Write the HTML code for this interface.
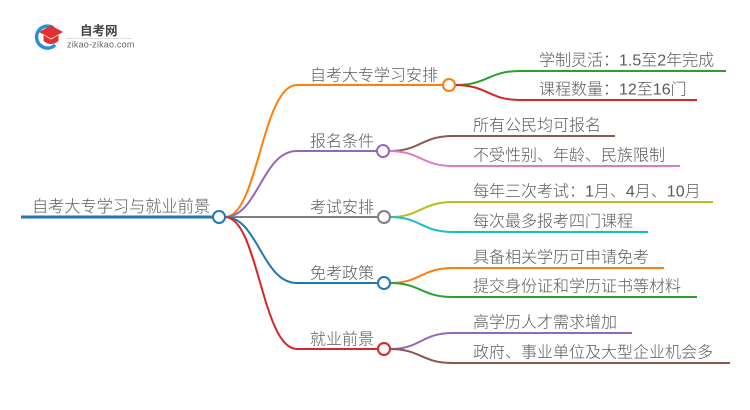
<!DOCTYPE html>
<html>
<head>
<meta charset="utf-8">
<style>
  html,body{margin:0;padding:0;background:#fff;}
  svg{display:block;}
  text{font-family:"Liberation Sans","Noto Sans CJK SC",sans-serif;fill:#5a5a5a;font-weight:300;}
</style>
</head>
<body>
<svg width="750" height="410" viewBox="0 0 750 410" xmlns="http://www.w3.org/2000/svg">
  <!-- Logo -->
  <g>
    <path d="M52 27 A11 11 0 1 0 54 46" fill="none" stroke="#2a8fd8" stroke-width="3.5" stroke-linecap="round"/>
    <path d="M39 32 L51 25.5 L63 32 L51 38.5 Z" fill="#e0302f"/>
    <path d="M43.5 35 L43.5 41 Q51 47 58.5 41 L58.5 35 L51 39.5 Z" fill="#e0302f"/>
    <text x="80" y="35" style="font-size:12.5px;font-weight:700;fill:#444;">自考网</text>
    <line x1="66" y1="38.5" x2="132" y2="38.5" stroke="#ddd" stroke-width="1"/>
    <text x="67" y="47.5" style="font-size:9px;fill:#666;letter-spacing:0.2px;">zikao-zikao.com</text>
  </g>

  <!-- Root -->
  <line x1="21" y1="217" x2="213" y2="217" stroke="#1f77b4" stroke-width="3"/>
  <text x="32" y="212" style="font-size:16.2px;">自考大专学习与就业前景</text>

  <!-- Level 1 connectors -->
  <path d="M225 217 C258 217 262 85 297 85 L442 85" fill="none" stroke="#ff7f0e" stroke-width="2"/>
  <path d="M225 217 C258 217 262 151 297 151 L377 151" fill="none" stroke="#9467bd" stroke-width="2"/>
  <path d="M225 217 L377 217" fill="none" stroke="#7f7f7f" stroke-width="2"/>
  <path d="M225 217 C258 217 262 283 297 283 L377 283" fill="none" stroke="#1f77b4" stroke-width="2"/>
  <path d="M225 217 C258 217 262 349 297 349 L377 349" fill="none" stroke="#d62728" stroke-width="2"/>

  <circle cx="219" cy="217" r="6" fill="#fff" stroke="#1f77b4" stroke-width="2"/>

  <!-- Level 1 labels -->
  <text x="310" y="80.5" style="font-size:16px;">自考大专学习安排</text>
  <text x="310" y="146.5" style="font-size:16px;">报名条件</text>
  <text x="310" y="212.5" style="font-size:16px;">考试安排</text>
  <text x="310" y="278.5" style="font-size:16px;">免考政策</text>
  <text x="310" y="344.5" style="font-size:16px;">就业前景</text>

  <!-- Leaves of branch 1 -->
  <path d="M455 85 C488 85 488 71 520 71 L726 71" fill="none" stroke="#2ca02c" stroke-width="2"/>
  <path d="M455 85 C488 85 488 100 520 100 L697 100" fill="none" stroke="#d62728" stroke-width="2"/>
  <circle cx="449" cy="85" r="6" fill="#fff" stroke="#ff7f0e" stroke-width="2"/>
  <text x="539" y="65.5" style="font-size:16px;">学制灵活：1.5至2年完成</text>
  <text x="539" y="94.5" style="font-size:16px;">课程数量：12至16门</text>

  <!-- Leaves of branch 2 -->
  <path d="M389 151 C421 151 421 136 453 136 L615 136" fill="none" stroke="#8c564b" stroke-width="2"/>
  <path d="M389 151 C421 151 421 166 453 166 L680 166" fill="none" stroke="#e377c2" stroke-width="2"/>
  <circle cx="383" cy="151" r="6" fill="#fff" stroke="#9467bd" stroke-width="2"/>
  <text x="473" y="130.5" style="font-size:16px;">所有公民均可报名</text>
  <text x="473" y="160.5" style="font-size:16px;">不受性别、年龄、民族限制</text>

  <!-- Leaves of branch 3 -->
  <path d="M390 217 C421 217 421 202 453 202 L713 202" fill="none" stroke="#bcbd22" stroke-width="2"/>
  <path d="M390 217 C421 217 421 232 453 232 L648 232" fill="none" stroke="#17becf" stroke-width="2"/>
  <circle cx="384" cy="217" r="6" fill="#fff" stroke="#7f7f7f" stroke-width="2"/>
  <text x="473" y="196.5" style="font-size:16px;">每年三次考试：1月、4月、10月</text>
  <text x="473" y="226.5" style="font-size:16px;">每次最多报考四门课程</text>

  <!-- Leaves of branch 4 -->
  <path d="M390 283 C421 283 421 268 453 268 L664 268" fill="none" stroke="#ff7f0e" stroke-width="2"/>
  <path d="M390 283 C421 283 421 297 453 297 L697 297" fill="none" stroke="#2ca02c" stroke-width="2"/>
  <circle cx="384" cy="283" r="6" fill="#fff" stroke="#1f77b4" stroke-width="2"/>
  <text x="473" y="262.5" style="font-size:16px;">具备相关学历可申请免考</text>
  <text x="473" y="291.5" style="font-size:16px;">提交身份证和学历证书等材料</text>

  <!-- Leaves of branch 5 -->
  <path d="M390 349 C421 349 421 333 453 333 L632 333" fill="none" stroke="#9467bd" stroke-width="2"/>
  <path d="M390 349 C421 349 421 363 453 363 L730 363" fill="none" stroke="#8c564b" stroke-width="2"/>
  <circle cx="384" cy="349" r="6" fill="#fff" stroke="#d62728" stroke-width="2"/>
  <text x="473" y="327.5" style="font-size:16px;">高学历人才需求增加</text>
  <text x="473" y="357.5" style="font-size:16px;">政府、事业单位及大型企业机会多</text>
</svg>
</body>
</html>
